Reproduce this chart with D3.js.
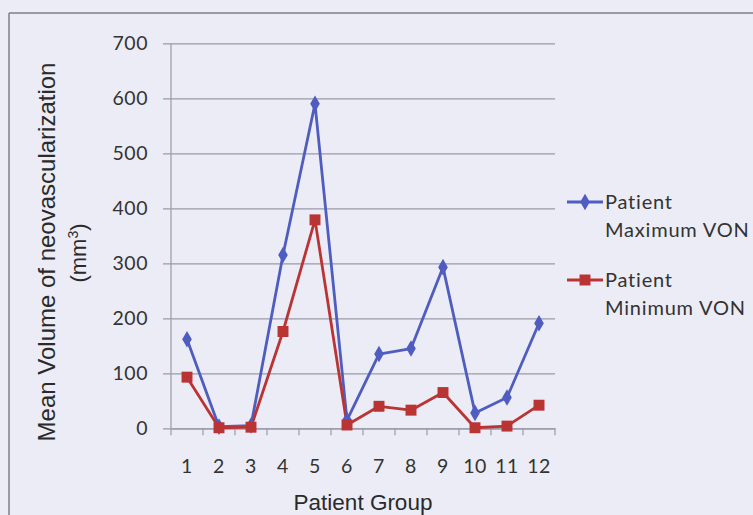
<!DOCTYPE html>
<html><head><meta charset="utf-8">
<script src="https://cdn.jsdelivr.net/npm/d3@7"></script>
<style>
html,body{margin:0;padding:0;background:#ececf6;}
svg{display:block;}
</style></head>
<body>
<svg id="chart" width="753" height="515"></svg>
<script>
const categories = ["1","2","3","4","5","6","7","8","9","10","11","12"];
const maxVON = [162, 3, 5, 315, 590, 15, 135, 145, 293, 28, 56, 191];
const minVON = [93, 1, 2, 176, 379, 6, 40, 33, 65, 1, 4, 42];
const yTicks = [0, 100, 200, 300, 400, 500, 600, 700];
const seriesNames = [["Patient", "Maximum VON"], ["Patient", "Minimum VON"]];
const colors = ["#4f5cc0", "#bb3434"];

(function () {
const svg = d3.select("#chart");
const pLeft = 171, pRight = 555, pTop = 43.3, pBottom = 428.3;
const tickFont = "Lato, 'Open Sans', sans-serif";

// frame
svg.append("line").attr("x1", 9).attr("x2", 753).attr("y1", 13).attr("y2", 13).attr("stroke", "#7f7f8a").attr("stroke-width", 1.5);
svg.append("line").attr("x1", 9).attr("x2", 9).attr("y1", 13).attr("y2", 515).attr("stroke", "#7f7f8a").attr("stroke-width", 1.5);

const x = d3.scaleBand().domain(categories).range([pLeft, pRight]);
const y = d3.scaleLinear().domain([0, 700]).range([pBottom, pTop]);

// gridlines + y axis
const yAxis = d3.axisLeft(y).tickValues(yTicks).tickSize(pRight - pLeft + 8).tickPadding(15).tickFormat(d3.format("d"));
const gy = svg.append("g").attr("transform", `translate(${pRight},0)`).call(yAxis);
gy.select(".domain").remove();
gy.selectAll(".tick line").attr("stroke", "#9a9aa8").attr("stroke-width", 1.2);
gy.selectAll(".tick text").attr("fill", "#333").style("font-family", tickFont).style("font-size", "19.5px").style("letter-spacing", "0.5px");

// y axis vertical line
svg.append("line").attr("x1", pLeft).attr("x2", pLeft).attr("y1", pTop).attr("y2", pBottom).attr("stroke", "#9a9aa8").attr("stroke-width", 1.2);

// x axis
const xAxis = d3.axisBottom(x).tickSize(0).tickPadding(31);
const gx = svg.append("g").attr("transform", `translate(0,${pBottom})`).call(xAxis);
gx.select(".domain").attr("stroke", "#9a9aa8").attr("stroke-width", 1.2);
gx.selectAll(".tick text").attr("fill", "#333").style("font-family", tickFont).style("font-size", "19.5px").style("letter-spacing", "0.5px");
// category boundary ticks
const bounds = categories.map(c => x(c)).concat([x(categories[categories.length - 1]) + x.bandwidth()]);
svg.append("g").selectAll("line").data(bounds).join("line")
  .attr("x1", d => d).attr("x2", d => d).attr("y1", pBottom).attr("y2", pBottom + 7)
  .attr("stroke", "#9a9aa8").attr("stroke-width", 1.2);

// axis titles
svg.append("text").attr("x", (pLeft + pRight) / 2).attr("y", 510).attr("text-anchor", "middle")
  .style("font-family", "'Liberation Sans', Arial, sans-serif").style("font-size", "22.5px").attr("fill", "#2a2a2a")
  .text("Patient Group");
const yt = svg.append("text").attr("transform", "translate(55,252) rotate(-90)").attr("text-anchor", "middle")
  .style("font-family", "'Liberation Sans', Arial, sans-serif").style("font-size", "24px").attr("fill", "#2a2a2a");
yt.text("Mean Volume of neovascularization");
const yt2 = svg.append("text").attr("transform", "translate(86,253) rotate(-90)").attr("text-anchor", "middle")
  .style("font-family", "'Liberation Sans', Arial, sans-serif").style("font-size", "22px").attr("fill", "#2a2a2a");
yt2.append("tspan").text("(mm");
yt2.append("tspan").attr("baseline-shift", "super").style("font-size", "14px").text("3");
yt2.append("tspan").text(")");

// lines
const cx = c => x(c) + x.bandwidth() / 2;
const line = d3.line().x((d, i) => cx(categories[i])).y(d => y(d));
[maxVON, minVON].forEach((s, k) => {
  svg.append("path").datum(s).attr("d", line).attr("fill", "none").attr("stroke", colors[k]).attr("stroke-width", 2.8).attr("stroke-linejoin", "round");
});
const diamond = d3.symbol().type(d3.symbolDiamond).size(80);
const square = d3.symbol().type(d3.symbolSquare).size(120);
svg.append("g").selectAll("path").data(maxVON).join("path")
  .attr("transform", (d, i) => `translate(${cx(categories[i])},${y(d)})`).attr("d", diamond).attr("fill", colors[0]);
svg.append("g").selectAll("path").data(minVON).join("path")
  .attr("transform", (d, i) => `translate(${cx(categories[i])},${y(d)})`).attr("d", square).attr("fill", colors[1]);

// legend
const legY = [202, 280];
const syms = [diamond, square];
seriesNames.forEach((nm, k) => {
  const g = svg.append("g");
  g.append("line").attr("x1", 567).attr("x2", 603).attr("y1", legY[k]).attr("y2", legY[k]).attr("stroke", colors[k]).attr("stroke-width", 2.8);
  g.append("path").attr("transform", `translate(585,${legY[k]})`).attr("d", syms[k]).attr("fill", colors[k]);
  g.selectAll("text").data(nm).join("text")
    .attr("x", 605).attr("y", (d, i) => legY[k] + 7 + i * 28)
    .style("font-family", tickFont).style("font-size", "20px").style("letter-spacing", "0.8px").attr("fill", "#333")
    .text(d => d);
});
})();
</script>
</body></html>
